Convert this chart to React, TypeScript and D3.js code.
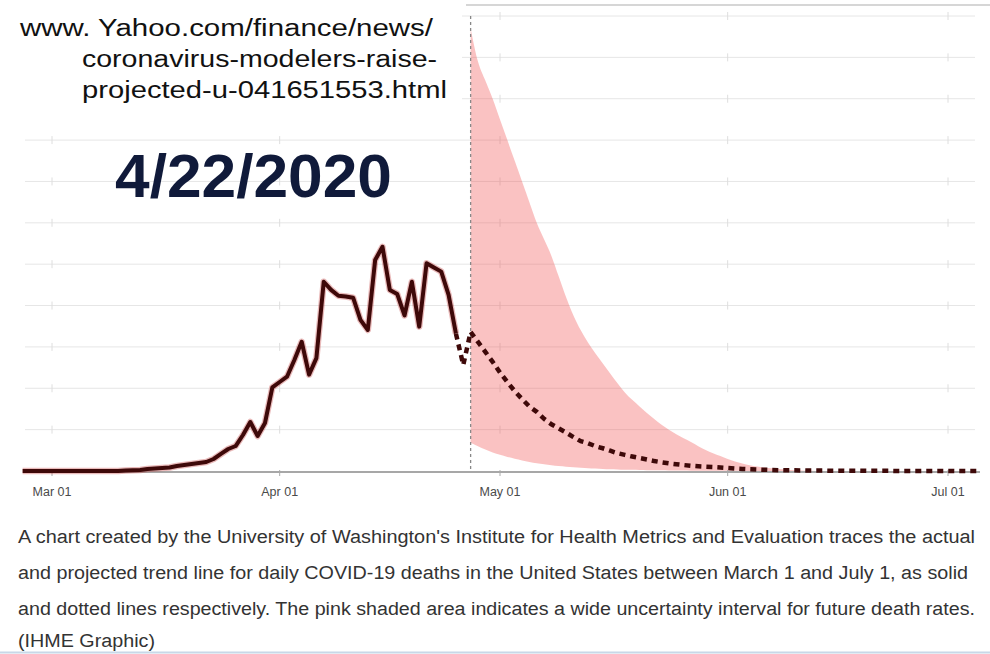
import React from 'react';
import * as d3 from 'd3';

const W = 990;
const H = 654;

const urlLines = [
  'www. Yahoo.com/finance/news/',
  'coronavirus-modelers-raise-',
  'projected-u-041651553.html',
];
const dateLabel = '4/22/2020';

const tickLabels = ['Mar 01', 'Apr 01', 'May 01', 'Jun 01', 'Jul 01'];
const tickDates = [
  new Date(Date.UTC(2020, 2, 1)),
  new Date(Date.UTC(2020, 3, 1)),
  new Date(Date.UTC(2020, 4, 1)),
  new Date(Date.UTC(2020, 5, 1)),
  new Date(Date.UTC(2020, 6, 1)),
];
const gridValues = [500, 1000, 1500, 2000, 2500, 3000, 3500, 4000, 4500, 5000, 5500];

// Actual daily deaths (solid line), starting Feb 26
const actualStart = new Date(Date.UTC(2020, 1, 26));
const actualDeaths = [
  0, 0, 0, 0, 0, 0, 0, 0, 0, 0, 0, 0, 0, 0,
  5, 8, 12, 24, 30, 36, 42, 60, 73, 85, 97, 109,
  145, 206, 266, 302, 435, 592, 423, 580, 1010, 1076,
  1140, 1342, 1562, 1165, 1365, 2288, 2190, 2118, 2110, 2095,
  1826, 1705, 2551, 2710, 2188, 2140, 1880, 2288, 1745, 2512,
  2460, 2410, 2128, 1660,
];

// Projected daily deaths (dotted line), starting Apr 25
const projStart = new Date(Date.UTC(2020, 3, 25));
const projectedDeaths = [
  1660, 1282, 1681, 1560, 1440, 1320, 1190, 1075, 965, 870,
  780, 715, 630, 565, 515, 465, 410, 360, 335, 300,
  275, 245, 215, 195, 175, 157, 140, 120, 105, 92,
  82, 72, 63, 57, 52, 48, 42, 36, 30, 25,
  21, 18, 15, 12, 10, 9, 8, 7, 6, 5,
  5, 4, 4, 3, 3, 3, 2, 2, 2, 2,
  1, 1, 1, 1, 1, 1, 1, 1, 0, 0,
  0, 0,
];

// Uncertainty interval (pink band), starting Apr 27
const bandStart = new Date(Date.UTC(2020, 3, 27));
const bandUpper = [
  5350, 4950, 4720, 4500, 4250, 4000, 3750, 3500, 3250, 3000,
  2800, 2600, 2350, 2100, 1880, 1700, 1550, 1420, 1300, 1180,
  1060, 950, 860, 780, 700, 630, 560, 500, 445, 395,
  350, 300, 255, 215, 180, 145, 115, 90, 70, 55,
  42, 32, 24, 16, 10, 5, 2, 0,
];
const bandLower = [
  340, 300, 260, 225, 195, 170, 148, 128, 110, 95,
  82, 70, 60, 52, 45, 39, 34, 29, 25, 22,
  19, 16, 14, 12, 10, 9, 8, 7, 6, 5,
  4, 4, 3, 3, 2, 2, 2, 1, 1, 1,
  1, 1, 0, 0, 0, 0, 0, 0,
];

const captionLines = [
  "A chart created by the University of Washington's Institute for Health Metrics and Evaluation traces the actual",
  'and projected trend line for daily COVID-19 deaths in the United States between March 1 and July 1, as solid',
  'and dotted lines respectively. The pink shaded area indicates a wide uncertainty interval for future death rates.',
  '(IHME Graphic)',
];
const captionWidths = [957, 950, 957, 137];

export default function App() {
  const x = d3
    .scaleUtc()
    .domain([tickDates[0], tickDates[tickDates.length - 1]])
    .range([52, 948]);
  const y = d3.scaleLinear().domain([0, 5500]).range([471, 16]);

  const dayX = (start: Date, i: number) => x(d3.utcDay.offset(start, i));

  const actualLine = d3
    .line<number>()
    .x((_, i) => dayX(actualStart, i))
    .y((v) => y(v))(actualDeaths) as string;

  const projLine = d3
    .line<number>()
    .x((_, i) => dayX(projStart, i))
    .y((v) => y(v))(projectedDeaths) as string;

  const band = d3
    .area<number>()
    .x((_, i) => dayX(bandStart, i))
    .y0((_, i) => y(bandLower[i]))
    .y1((v) => y(v))
    .curve(d3.curveMonotoneX)(bandUpper) as string;

  const bandX = x(bandStart);
  const font = '"Liberation Sans", Arial, sans-serif';

  return (
    <svg
      width={W}
      height={H}
      style={{ position: 'absolute', left: 0, top: 0, background: '#fff' }}
    >
      <rect x={0} y={0} width={W} height={H} fill="#fff" />
      {/* top border */}
      <line x1={466} x2={990} y1={5} y2={5} stroke="#c9c9c9" strokeWidth={1.5} />
      {/* grid */}
      {gridValues.map((g) => (
        <line key={g} x1={25} x2={975} y1={y(g)} y2={y(g)} stroke="#e6e6e6" strokeWidth={1} />
      ))}
      {gridValues.map((g) =>
        tickDates.map((t, k) => (
          <line
            key={g + '-' + k}
            x1={x(t)}
            x2={x(t)}
            y1={y(g) - 4}
            y2={y(g) + 4}
            stroke="#dedede"
            strokeWidth={1}
          />
        ))
      )}
      {/* uncertainty band */}
      <path d={band} fill="rgb(240,80,80)" fillOpacity={0.35} />
      {/* vertical dashed line */}
      <line
        x1={bandX}
        x2={bandX}
        y1={16}
        y2={471}
        stroke="#888"
        strokeWidth={1.3}
        strokeDasharray="3 3"
      />
      {/* axis */}
      <line x1={25} x2={980} y1={472} y2={472} stroke="#8a8a8a" strokeWidth={1.5} />
      {tickDates.map((t, k) => (
        <g key={k}>
          <line x1={x(t)} x2={x(t)} y1={470} y2={476} stroke="#aaa" strokeWidth={1} />
          <text
            x={x(t)}
            y={496}
            textAnchor="middle"
            fontFamily={font}
            fontSize={12.5}
            fill="#4a4a4a"
          >
            {tickLabels[k]}
          </text>
        </g>
      ))}
      {/* actual line */}
      <path d={actualLine} fill="none" stroke="#c03a3a" strokeOpacity={0.35} strokeWidth={6.5} strokeLinejoin="round" />
      <path d={actualLine} fill="none" stroke="#3e0909" strokeWidth={4} strokeLinejoin="round" />
      {/* projected line */}
      <path
        d={projLine}
        fill="none"
        stroke="#3e0909"
        strokeWidth={4.5}
        strokeDasharray="6 5"
      />
      {/* URL box and text */}
      <rect x={0} y={0} width={462} height={110} fill="#fff" />
      {urlLines.map((t, i) => (
        <text
          key={i}
          x={i === 0 ? 20 : 82}
          y={36 + i * 31}
          fontFamily={font}
          fontSize={23}
          fill="#111"
          textLength={[413, 355, 365][i]}
          lengthAdjust="spacingAndGlyphs"
        >
          {t}
        </text>
      ))}
      <text
        x={115}
        y={197}
        fontFamily={font}
        fontWeight="bold"
        fontSize={61}
        fill="#101a3a"
        textLength={277}
        lengthAdjust="spacingAndGlyphs"
      >
        {dateLabel}
      </text>
      {/* caption */}
      {captionLines.map((t, i) => (
        <text
          key={i}
          x={18}
          y={[543, 579, 615, 647][i]}
          fontFamily={'"Liberation Sans Narrow", "Arial Narrow", ' + font}
          fontSize={18}
          fill="#333"
          textLength={captionWidths[i]}
          lengthAdjust="spacingAndGlyphs"
        >
          {t}
        </text>
      ))}
      <line x1={0} x2={990} y1={652.5} y2={652.5} stroke="#c8d8e8" strokeWidth={2} />
    </svg>
  );
}
